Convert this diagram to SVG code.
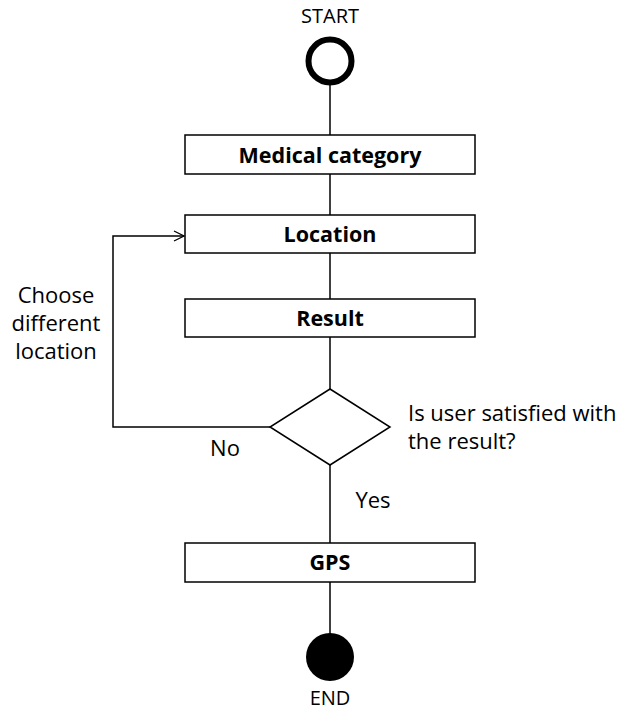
<svg xmlns="http://www.w3.org/2000/svg" width="627" height="710" viewBox="0 0 627 710">
<defs>
<style>
.box{fill:#fff;stroke:#000;stroke-width:1.5}
.ln{fill:none;stroke:#000;stroke-width:1.5}
.bt{font-family:"Open Sans","Liberation Sans",sans-serif;font-weight:bold;font-size:21.5px;text-anchor:middle;fill:#000}
.t{font-family:"Open Sans","Liberation Sans",sans-serif;font-size:22px;fill:#000}
.s{font-family:"Open Sans","Liberation Sans",sans-serif;font-size:20px;fill:#000;text-anchor:middle}
</style>
<marker id="arr" markerWidth="12" markerHeight="12" refX="11" refY="6" orient="auto" markerUnits="userSpaceOnUse">
<path d="M1,1 L11,6 L1,11" fill="none" stroke="#000" stroke-width="1.3"/>
</marker>
</defs>
<rect width="627" height="710" fill="#fff"/>
<g id="connectors">
<line class="ln" x1="330" y1="85" x2="330" y2="135"/>
<line class="ln" x1="330" y1="174" x2="330" y2="215"/>
<line class="ln" x1="330" y1="253" x2="330" y2="299"/>
<line class="ln" x1="330" y1="337" x2="330" y2="389"/>
<line class="ln" x1="330" y1="465" x2="330" y2="543"/>
<line class="ln" x1="330" y1="582" x2="330" y2="634"/>
<polyline class="ln" points="270,427 113,427 113,236 184,236" marker-end="url(#arr)"/>
<text class="t" x="56" y="303" text-anchor="middle">Choose</text>
<text class="t" x="56" y="331" text-anchor="middle">different</text>
<text class="t" x="56" y="359" text-anchor="middle">location</text>
<text class="t" x="225" y="456" text-anchor="middle">No</text>
<text class="t" x="373" y="508" text-anchor="middle">Yes</text>
</g>
<g id="start">
<text class="s" x="330" y="23">START</text>
<circle cx="330" cy="61" r="21.5" fill="#fff" stroke="#000" stroke-width="6"/>
</g>
<g id="medical">
<rect class="box" x="185" y="135" width="290" height="39"/>
<text class="bt" x="330" y="163">Medical category</text>
</g>
<g id="location">
<rect class="box" x="185" y="215" width="290" height="38"/>
<text class="bt" x="330" y="242">Location</text>
</g>
<g id="result">
<rect class="box" x="185" y="299" width="290" height="38"/>
<text class="bt" x="330" y="326">Result</text>
</g>
<g id="decision">
<polygon class="box" points="330,389 390,427 330,465 270,427"/>
<text class="t" x="408" y="421">Is user satisfied with</text>
<text class="t" x="408" y="449">the result?</text>
</g>
<g id="gps">
<rect class="box" x="185" y="543" width="290" height="39"/>
<text class="bt" x="330" y="570">GPS</text>
</g>
<g id="end">
<circle cx="330" cy="657" r="24" fill="#000"/>
<text class="s" x="330" y="705">END</text>
</g>
</svg>
